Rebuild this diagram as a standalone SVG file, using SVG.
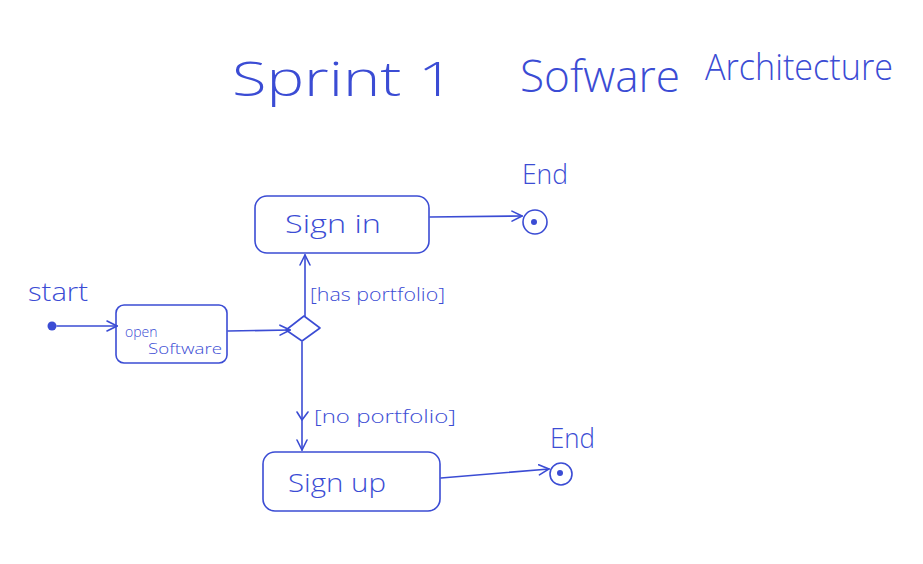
<svg xmlns="http://www.w3.org/2000/svg" width="923" height="564" viewBox="0 0 923 564">
<style>
.ln{fill:none;stroke:#3b4cd4;stroke-width:1.6;stroke-linecap:round;stroke-linejoin:round}
.t{fill:#3b4cd4;font-family:"Open Sans","Liberation Sans","DejaVu Sans",sans-serif;font-weight:300}
</style>
<defs>
<marker id="ah" viewBox="0 0 12 12" refX="11" refY="6" markerWidth="12" markerHeight="12" markerUnits="userSpaceOnUse" orient="auto">
<path d="M1,1 L11,6 L1,11" fill="none" stroke="#3b4cd4" stroke-width="1.6" stroke-linecap="round"/>
</marker>
</defs>
<rect width="923" height="564" fill="#ffffff"/>
<g id="title">
<text class="t" x="232" y="96" font-size="48" textLength="222" lengthAdjust="spacingAndGlyphs">Sprint 1</text>
<text class="t" x="520" y="92" font-size="44" textLength="160" lengthAdjust="spacingAndGlyphs">Sofware</text>
<text class="t" x="705" y="80" font-size="36" textLength="188" lengthAdjust="spacingAndGlyphs">Architecture</text>
</g>
<g id="start">
<text class="t" x="28" y="301" font-size="25" textLength="60" lengthAdjust="spacingAndGlyphs">start</text>
<circle cx="52" cy="326" r="4.5" fill="#3b4cd4"/>
</g>
<g id="open-software">
<rect class="ln" x="116" y="305" width="111" height="58" rx="8"/>
<text class="t" x="125" y="337" font-size="14">open</text>
<text class="t" x="148" y="354" font-size="14" textLength="74" lengthAdjust="spacingAndGlyphs">Software</text>
</g>
<g id="decision">
<path class="ln" d="M286,330 L304,316 L320,328 L302,341 Z"/>
</g>
<g id="sign-in">
<rect class="ln" x="255" y="196" width="174" height="57" rx="12"/>
<text class="t" x="285" y="233" font-size="25" textLength="96" lengthAdjust="spacingAndGlyphs">Sign  in</text>
</g>
<g id="sign-up">
<rect class="ln" x="263" y="452" width="177" height="59" rx="12"/>
<text class="t" x="288" y="492" font-size="25" textLength="98" lengthAdjust="spacingAndGlyphs">Sign  up</text>
</g>
<g id="end-1">
<text class="t" x="522" y="184" font-size="27" textLength="46" lengthAdjust="spacingAndGlyphs">End</text>
<circle class="ln" cx="535" cy="222" r="12"/>
<circle cx="534" cy="222" r="3" fill="#3b4cd4"/>
</g>
<g id="end-2">
<text class="t" x="550" y="448" font-size="27" textLength="45" lengthAdjust="spacingAndGlyphs">End</text>
<circle class="ln" cx="561" cy="474" r="11"/>
<circle cx="560" cy="473" r="3" fill="#3b4cd4"/>
</g>
<g id="connectors">
<line class="ln" x1="57" y1="326" x2="117" y2="326" marker-end="url(#ah)"/>
<line class="ln" x1="228" y1="331" x2="290" y2="330" marker-end="url(#ah)"/>
<line class="ln" x1="305" y1="316" x2="305" y2="255" marker-end="url(#ah)"/>
<line class="ln" x1="302" y1="342" x2="302" y2="450" marker-end="url(#ah)"/>
<path class="ln" d="M297,412 L302,420 L308,412"/>
<line class="ln" x1="430" y1="217" x2="522" y2="216" marker-end="url(#ah)"/>
<line class="ln" x1="441" y1="478" x2="549" y2="469" marker-end="url(#ah)"/>
<text class="t" x="310" y="301" font-size="18" textLength="135" lengthAdjust="spacingAndGlyphs">[has portfolio]</text>
<text class="t" x="314" y="423" font-size="18" textLength="142" lengthAdjust="spacingAndGlyphs">[no portfolio]</text>
</g>
</svg>
